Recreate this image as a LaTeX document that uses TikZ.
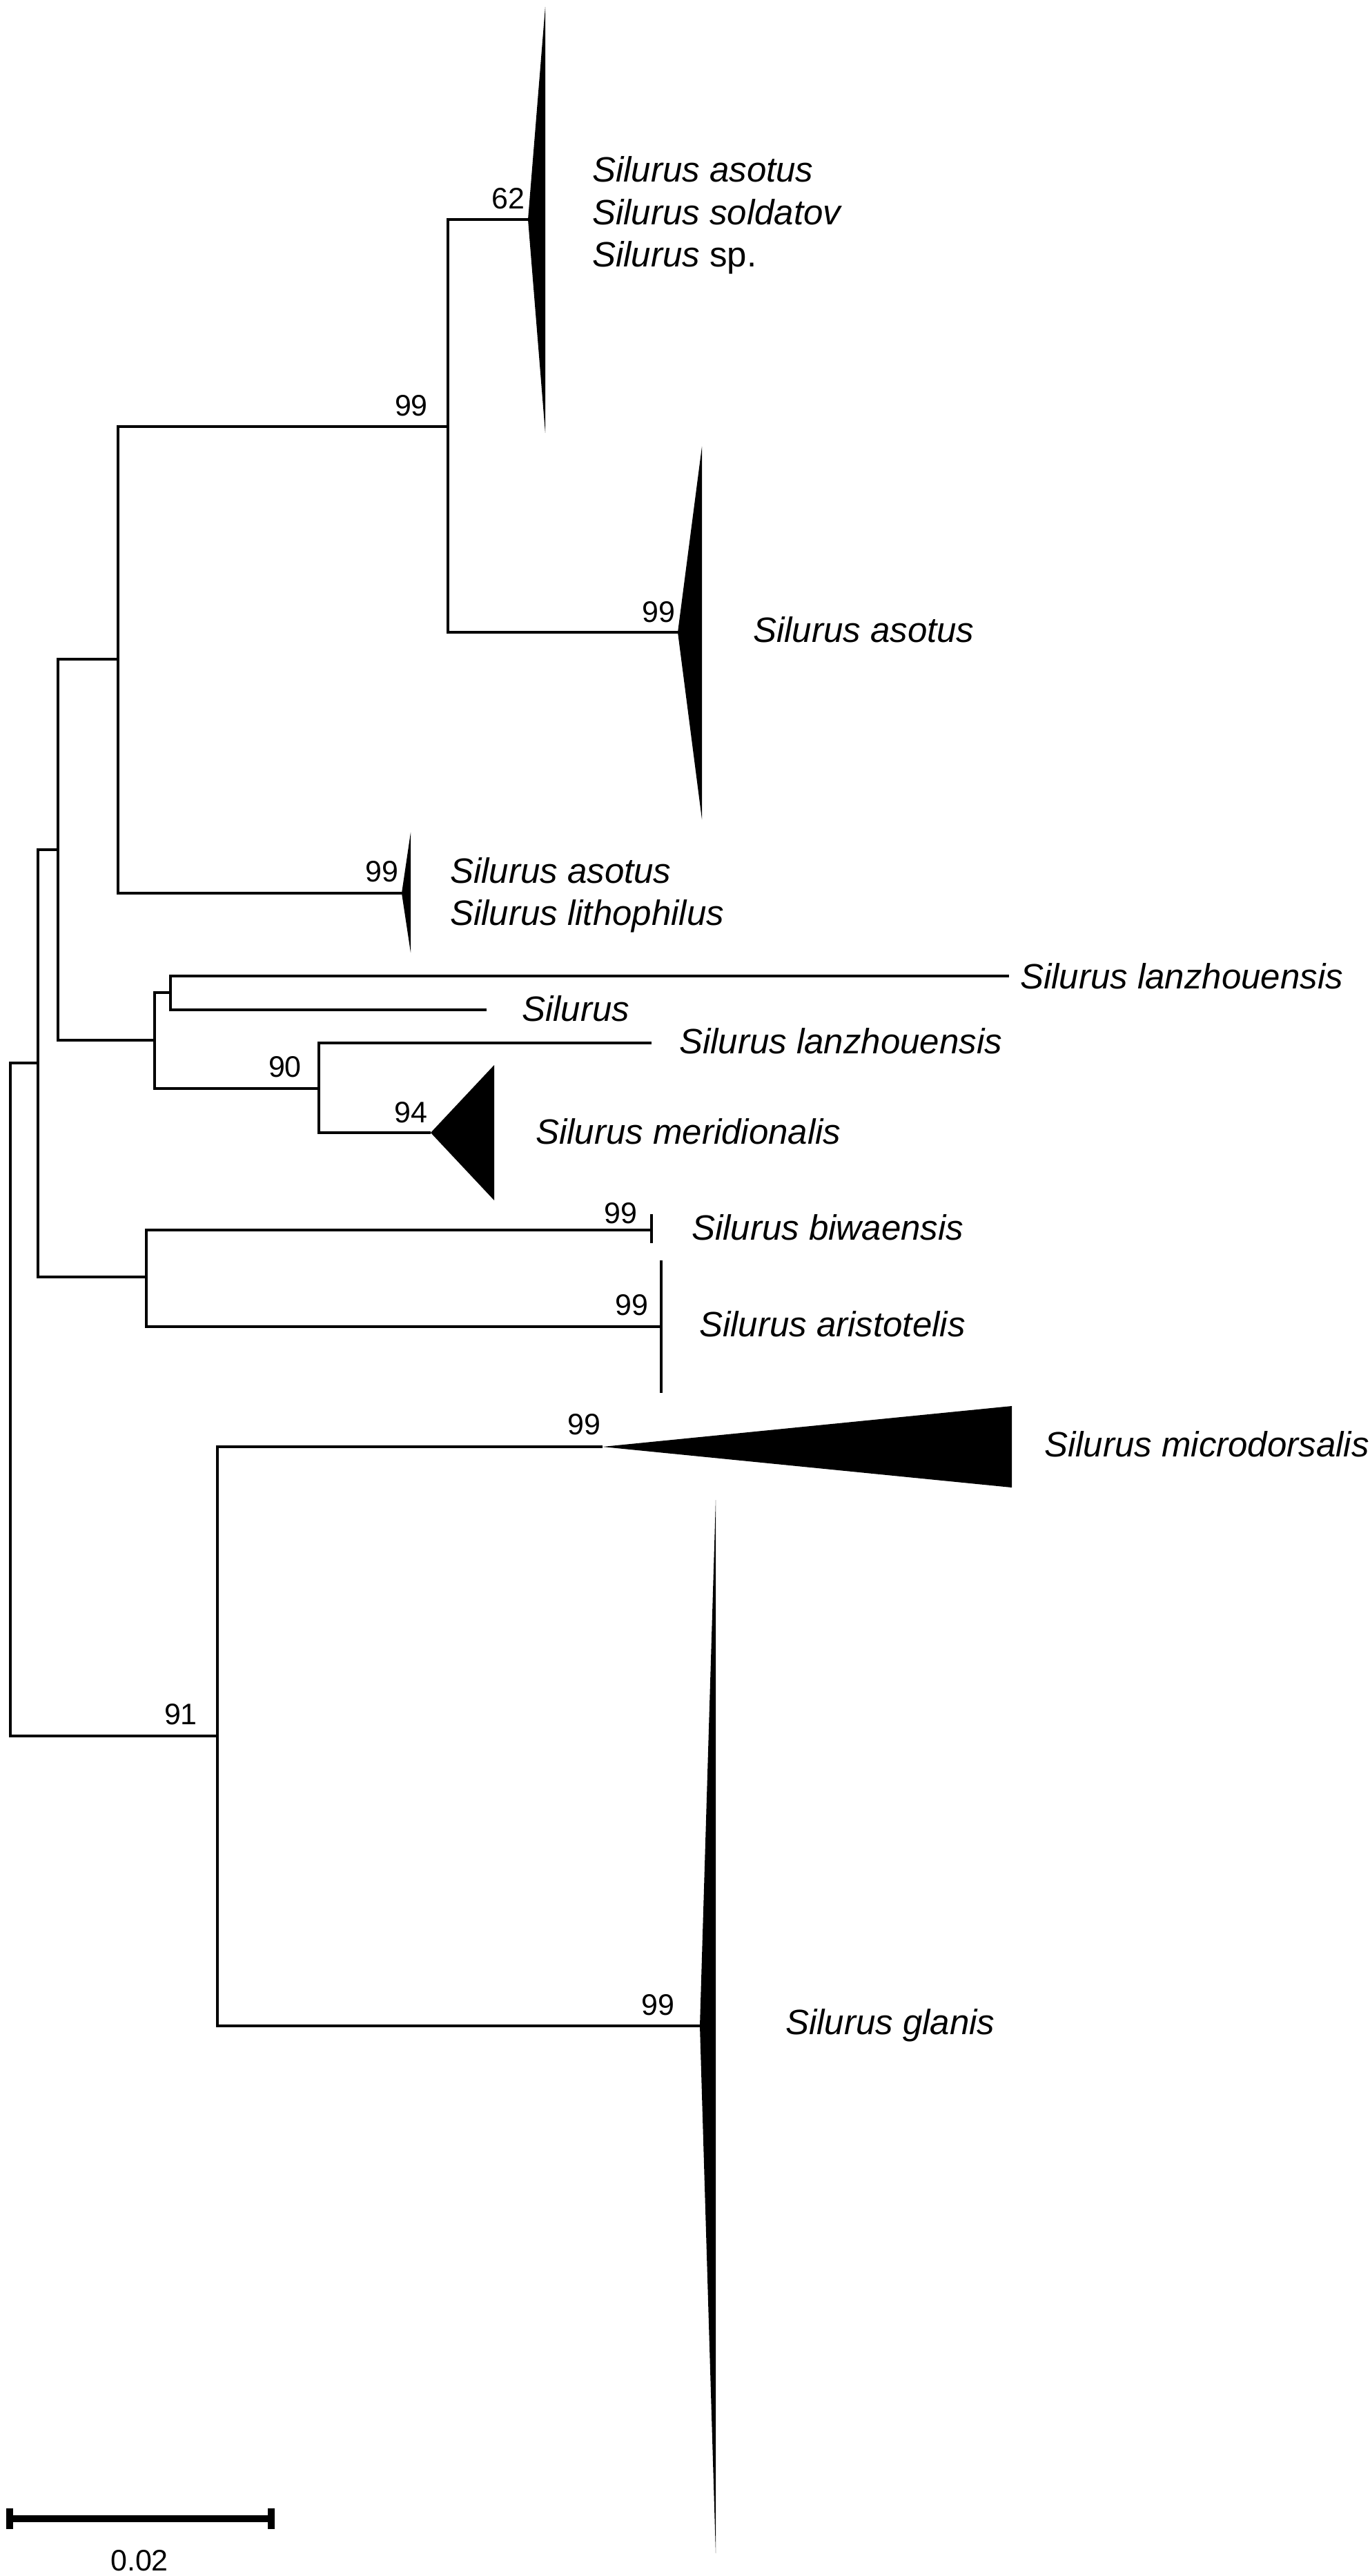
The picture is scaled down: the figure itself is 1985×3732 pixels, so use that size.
\documentclass[tikz,border=0pt]{standalone}
\usepackage{fontspec}
\setmainfont{Liberation Sans}
\begin{document}
\begin{tikzpicture}[x=1pt,y=-1pt,
  branch/.style={line width=4.3pt, line join=miter},
  clade/.style={fill=black},
  taxon/.style={font=\fontsize{51}{61.5}\selectfont\itshape, anchor=base west, inner sep=0pt},
  lbl/.style={font=\fontsize{43}{50}\selectfont, anchor=base, inner sep=0pt}]
\useasboundingbox (0,0) rectangle (1985,3732);
% internal nodes
\coordinate (root) at (15,2028);
\coordinate (A) at (55,1540);
\coordinate (B) at (84,1231);
\coordinate (C) at (171,955);
\coordinate (D) at (649,618);
\coordinate (E) at (224,1507);
\coordinate (F) at (247,1438);
\coordinate (G) at (462,1577);
\coordinate (H) at (212,1850);
\coordinate (I) at (315,2515);
% tips
\coordinate (t1) at (765,318);
\coordinate (t2) at (982,916);
\coordinate (t3) at (582,1294);
\coordinate (tL1) at (1462,1414);
\coordinate (tS) at (705,1463);
\coordinate (tL2) at (944,1511);
\coordinate (t4) at (624,1641);
\coordinate (tB) at (944,1782);
\coordinate (tA) at (958,1922);
\coordinate (t5) at (873,2096);
\coordinate (t6) at (1014,2935);
% branches
\draw[branch] (root) |- (A);
\draw[branch] (root) |- (I);
\draw[branch] (A) |- (B);
\draw[branch] (A) |- (H);
\draw[branch] (B) |- (C);
\draw[branch] (B) |- (E);
\draw[branch] (C) |- (D);
\draw[branch] (C) |- (t3);
\draw[branch] (D) |- (t1);
\draw[branch] (D) |- (t2);
\draw[branch] (E) |- (F);
\draw[branch] (E) |- (G);
\draw[branch] (F) |- (tL1);
\draw[branch] (F) |- (tS);
\draw[branch] (G) |- (tL2);
\draw[branch] (G) |- (t4);
\draw[branch] (H) |- (tB);
\draw[branch] (H) |- (tA);
\draw[branch] (I) |- (t5);
\draw[branch] (I) |- (t6);
% collapsed clades
\fill[clade] (t1) -- (790,10) -- (790,627) -- cycle;
\fill[clade] (t2) -- (1017,647) -- (1017,1187) -- cycle;
\fill[clade] (t3) -- (595,1206) -- (595,1380) -- cycle;
\fill[clade] (t4) -- (716,1543) -- (716,1739) -- cycle;
\fill[clade] (t5) -- (1466,2037) -- (1466,2155) -- cycle;
\fill[clade] (t6) -- (1037,2173) -- (1037,3699) -- cycle;
\draw[line width=4pt] (944,1759) -- (944,1801);
\draw[line width=4pt] (958,1826) -- (958,2018);
% support values
\node[lbl] (s62) at (736,302) {62};
\node[lbl] (sD) at (596,602) {99};
\node[lbl] (s2) at (954,901) {99};
\node[lbl] (s3) at (553,1277) {99};
\node[lbl] (s90) at (413,1560) {90};
\node[lbl] (s94) at (595,1626) {94};
\node[lbl] (sB) at (899,1772) {99};
\node[lbl] (sA) at (915,1905) {99};
\node[lbl] (s5) at (846,2078) {99};
\node[lbl] (s91) at (262,2498) {91};
\node[lbl] (s6) at (953,2919) {99};
% taxa
\node[taxon] (n1a) at (858,263) {Silurus asotus};
\node[taxon] (n1b) at (858,325) {Silurus soldatov};
\node[taxon] (n1c) at (858,386) {Silurus \upshape sp.};
\node[taxon] (n2) at (1091,930) {Silurus asotus};
\node[taxon] (n3a) at (652,1279) {Silurus asotus};
\node[taxon] (n3b) at (652,1340) {Silurus lithophilus};
\node[taxon] (nL1) at (1478,1432) {Silurus lanzhouensis};
\node[taxon] (nS) at (756,1479) {Silurus};
\node[taxon] (nL2) at (984,1526) {Silurus lanzhouensis};
\node[taxon] (n4) at (776,1657) {Silurus meridionalis};
\node[taxon] (nB) at (1002,1796) {Silurus biwaensis};
\node[taxon] (nA) at (1013,1936) {Silurus aristotelis};
\node[taxon] (n5) at (1513,2110) {Silurus microdorsalis};
\node[taxon] (n6) at (1138,2947) {Silurus glanis};
% scale bar
\coordinate (sb1) at (14,3649);
\coordinate (sb2) at (393,3649);
\draw[line width=10pt] (sb1) -- (sb2);
\draw[line width=10pt] ([yshift=-15pt]sb1) -- ([yshift=15pt]sb1);
\draw[line width=10pt] ([yshift=-15pt]sb2) -- ([yshift=15pt]sb2);
\node[lbl] (sbl) at (202,3724) {0.02};
\end{tikzpicture}
\end{document}
